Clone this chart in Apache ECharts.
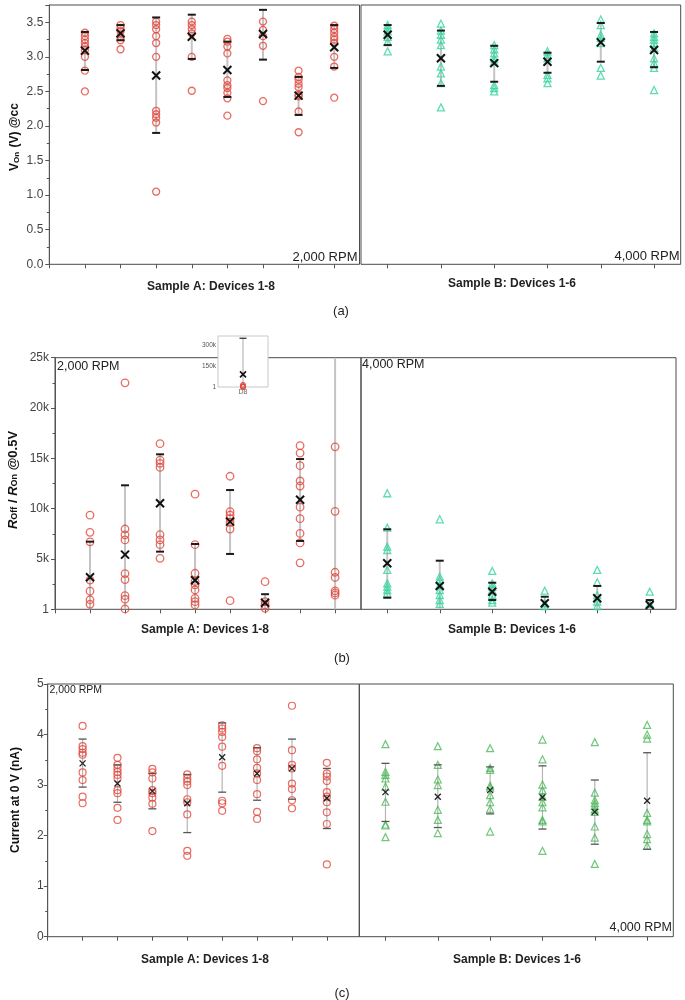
<!DOCTYPE html>
<html><head><meta charset="utf-8">
<script src="https://cdn.jsdelivr.net/npm/echarts/dist/echarts.min.js"></script>
<style>html,body{margin:0;padding:0;background:#fff}#c{width:685px;height:1000px}</style>
</head><body><div id="c"></div>
<script>
// ---------- DATA ----------
const devicesA = [1, 2, 3, 4, 5, 6, 7, 8];
const devicesB = [1, 2, 3, 4, 5, 6];

// (a) V_On (V) @cc
const vonA = [
  [3.35, 3.30, 3.25, 3.20, 3.15, 3.10, 3.00, 2.80, 2.50],
  [3.46, 3.42, 3.37, 3.29, 3.24, 3.11],
  [3.51, 3.46, 3.40, 3.30, 3.20, 3.00, 2.22, 2.17, 2.12, 2.05, 1.05],
  [3.51, 3.46, 3.40, 3.34, 3.00, 2.51],
  [3.26, 3.22, 3.15, 3.05, 2.66, 2.59, 2.55, 2.48, 2.40, 2.15],
  [3.51, 3.39, 3.30, 3.16, 2.36],
  [2.80, 2.71, 2.67, 2.61, 2.56, 2.45, 2.43, 2.21, 1.91],
  [3.45, 3.40, 3.35, 3.29, 3.25, 3.20, 3.00, 2.86, 2.41]
];
const vonAMean = [3.09, 3.34, 2.73, 3.29, 2.81, 3.33, 2.44, 3.14];
const vonAHi   = [3.36, 3.46, 3.57, 3.61, 3.22, 3.68, 2.71, 3.46];
const vonALo   = [2.81, 3.24, 1.90, 2.97, 2.42, 2.96, 2.16, 2.84];
const vonB = [
  [3.46, 3.42, 3.37, 3.29, 3.22, 3.08],
  [3.48, 3.38, 3.32, 3.25, 3.17, 2.86, 2.76, 2.62, 2.27],
  [3.17, 3.11, 3.05, 2.98, 2.93, 2.59, 2.55, 2.50],
  [3.08, 3.03, 2.98, 2.74, 2.69, 2.62],
  [3.54, 3.46, 3.32, 3.27, 3.20, 2.84, 2.73],
  [3.34, 3.29, 3.25, 3.20, 3.13, 2.98, 2.91, 2.84, 2.52]
];
const vonBMean = [3.32, 2.98, 2.91, 2.93, 3.21, 3.10];
const vonBHi   = [3.46, 3.38, 3.16, 3.06, 3.49, 3.36];
const vonBLo   = [3.17, 2.58, 2.64, 2.77, 2.93, 2.85];

// (b) R_Off / R_On @0.5V
const ratioA = [
  [9350, 7650, 6700, 2900, 1800, 950, 500],
  [22500, 7980, 7400, 6890, 3550, 2950, 1350, 1000, 30],
  [16460, 14830, 14500, 14100, 7420, 6890, 6420, 5070],
  [11440, 6420, 3580, 2750, 2420, 1920, 1090, 760, 430],
  [13220, 9700, 9370, 9000, 8640, 7970, 860],
  [2740, 760, 430, 100],
  [16260, 15520, 14270, 12750, 12250, 10150, 9000, 7540, 6600, 4620],
  [16140, 9740, 3680, 3160, 1840, 1620, 1400]
];
const ratioAMean = [3180, 5430, 10530, 2880, 8710, 650, 10890, 90000];
const ratioAHi   = [6720, 12320, 15400, 6490, 11850, 1500, 14930, 348000];
const ratioALo   = [-360, -1460, 5730, -730, 5500, -200, 6790, -168000];
const ratioB = [
  [11530, 8110, 6220, 5890, 3910, 2580, 2250, 1920, 1590],
  [8940, 3240, 2910, 2420, 1920, 1420, 920, 530],
  [3810, 2580, 2250, 1920, 1420, 920, 660],
  [1850, 600, 330],
  [3910, 2680, 1420, 760, 330],
  [1750, 530]
];
const ratioBMean = [4570, 2320, 1750, 600, 1090, 430];
const ratioBHi   = [7950, 4830, 2640, 1250, 2320, 920];
const ratioBLo   = [1150, -190, 920, -50, -140, -60];
const insetCategory = ['D8'];

// (c) Current at 0 V (nA)
const curA = [
  [4.17, 3.77, 3.71, 3.64, 3.60, 3.25, 3.10, 2.77, 2.64],
  [3.54, 3.40, 3.33, 3.26, 3.20, 3.13, 2.90, 2.84, 2.55, 2.31],
  [3.32, 3.25, 3.13, 2.90, 2.84, 2.75, 2.63, 2.09],
  [3.21, 3.13, 3.07, 3.00, 2.72, 2.66, 2.42, 1.70, 1.60],
  [4.18, 4.12, 4.05, 3.95, 3.76, 3.38, 2.69, 2.64, 2.49],
  [3.73, 3.67, 3.51, 3.34, 3.23, 3.10, 2.82, 2.47, 2.33],
  [4.57, 3.69, 3.40, 3.33, 3.03, 2.92, 2.70, 2.54],
  [3.44, 3.23, 3.17, 3.08, 2.86, 2.77, 2.66, 2.46, 2.23, 1.43]
];
const curAMean = [3.43, 3.03, 2.88, 2.64, 3.55, 3.23, 3.33, 2.74];
const curAHi   = [3.91, 3.40, 3.23, 3.21, 4.23, 3.74, 3.91, 3.33];
const curALo   = [2.96, 2.66, 2.53, 2.06, 2.86, 2.70, 2.72, 2.14];
const curB = [
  [3.81, 3.26, 3.20, 3.13, 2.97, 2.67, 2.22, 2.20, 1.97],
  [3.77, 3.40, 3.11, 3.00, 2.51, 2.31, 2.05],
  [3.73, 3.34, 3.30, 2.99, 2.95, 2.80, 2.66, 2.53, 2.08],
  [3.90, 3.51, 3.01, 2.90, 2.77, 2.66, 2.56, 2.31, 2.28, 1.70],
  [3.85, 2.85, 2.70, 2.64, 2.59, 2.52, 2.47, 2.18, 1.96, 1.44],
  [4.19, 4.00, 3.92, 2.45, 2.31, 2.28, 2.03, 1.93, 1.80]
];
const curBMean = [2.86, 2.77, 2.90, 2.76, 2.47, 2.69];
const curBHi   = [3.43, 3.40, 3.36, 3.38, 3.10, 3.64];
const curBLo   = [2.28, 2.16, 2.43, 2.13, 1.83, 1.73];

// ---------- HELPERS ----------
const FONT = '"Liberation Sans", Arial, sans-serif';
const RED = '#e3473c', TEAL = '#36d49c', GREEN = '#4db95b';

function toPts(devs, groups) {
  const out = [];
  groups.forEach((g, i) => g.forEach(v => out.push([devs[i], v])));
  return out;
}
function toErr(devs, mean, hi, lo) {
  return mean.map((m, i) => [devs[i], m, hi[i], lo[i]]);
}
function clampY(y, cs) { return Math.max(cs.y, Math.min(cs.y + cs.height, y)); }
function lineRender(color, w) {
  return function (params, api) {
    const cs = params.coordSys;
    const xv = api.value(0);
    const x = api.coord([xv, api.value(1)])[0];
    const y1 = clampY(api.coord([xv, api.value(2)])[1], cs);
    const y2 = clampY(api.coord([xv, api.value(3)])[1], cs);
    return { type: 'line', shape: { x1: x, y1: y1, x2: x, y2: y2 }, style: { stroke: color, lineWidth: w } };
  };
}
function capRender(capColor, capW, capHalf, xColor, xW, xHalf) {
  return function (params, api) {
    const cs = params.coordSys;
    const xv = api.value(0);
    const p = api.coord([xv, api.value(1)]);
    const yH = api.coord([xv, api.value(2)])[1];
    const yL = api.coord([xv, api.value(3)])[1];
    const inside = y => y >= cs.y - 0.5 && y <= cs.y + cs.height + 0.5;
    const ch = [];
    [yH, yL].forEach(y => {
      if (inside(y)) ch.push({ type: 'line', shape: { x1: p[0] - capHalf, y1: y, x2: p[0] + capHalf, y2: y }, style: { stroke: capColor, lineWidth: capW } });
    });
    if (inside(p[1])) {
      ch.push({ type: 'line', shape: { x1: p[0] - xHalf, y1: p[1] - xHalf, x2: p[0] + xHalf, y2: p[1] + xHalf }, style: { stroke: xColor, lineWidth: xW } });
      ch.push({ type: 'line', shape: { x1: p[0] - xHalf, y1: p[1] + xHalf, x2: p[0] + xHalf, y2: p[1] - xHalf }, style: { stroke: xColor, lineWidth: xW } });
    }
    return { type: 'group', children: ch };
  };
}
function groupSeries(idx, pts, err, sym, color, size, st, zBase) {
  zBase = zBase || 2;
  return [
    { type: 'custom', xAxisIndex: idx, yAxisIndex: idx, data: err, silent: true, z: zBase,
      renderItem: lineRender(st.lineColor, st.lineW) },
    { type: 'scatter', xAxisIndex: idx, yAxisIndex: idx, data: pts, silent: true, z: zBase + 1,
      symbol: sym, symbolSize: size,
      itemStyle: { color: 'rgba(255,255,255,0)', borderColor: color, borderWidth: st.symW } },
    { type: 'custom', xAxisIndex: idx, yAxisIndex: idx, data: err, silent: true, z: zBase + 2,
      renderItem: capRender(st.capColor, st.capW, st.capHalf, st.xColor, st.xW, st.xHalf) }
  ];
}
const stAB = { lineColor: '#c4c4c4', lineW: 2, symW: 1.3, capColor: '#1a1a1a', capW: 2, capHalf: 4, xColor: '#111', xW: 2, xHalf: 4 };
const stC  = { lineColor: '#b5b5b5', lineW: 1.2, symW: 1.2, capColor: '#555', capW: 1.3, capHalf: 4, xColor: '#222', xW: 1.3, xHalf: 3 };

function xAxisDef(idx, min, max, ticks) {
  return { type: 'value', gridIndex: idx, min: min, max: max,
    axisLine: { show: false }, splitLine: { show: false }, axisLabel: { show: false },
    axisTick: { show: true, inside: false, length: 4, customValues: ticks, lineStyle: { color: '#555' } } };
}
function yAxisDef(idx, min, max, interval, fmt, margin, show, showMax) {
  if (!show) {
    return { type: 'value', gridIndex: idx, min: min, max: max, interval: interval,
      axisLine: { show: false }, axisTick: { show: false }, axisLabel: { show: false }, splitLine: { show: false } };
  }
  return { type: 'value', gridIndex: idx, min: min, max: max, interval: interval,
    axisLine: { show: true, lineStyle: { color: '#555' } },
    axisTick: { show: true, length: 4, lineStyle: { color: '#555' } },
    minorTick: { show: true, splitNumber: 2, length: 2.5, lineStyle: { color: '#555' } },
    splitLine: { show: false },
    axisLabel: { show: true, formatter: fmt, margin: margin, showMaxLabel: showMax, color: '#444', fontSize: 12, fontFamily: FONT } };
}
const gridBorder = { show: true, borderColor: '#4a4a4a', borderWidth: 1, backgroundColor: 'rgba(0,0,0,0)' };
const ticksA = [0].concat(devicesA);

function txt(x, y, text, font, align, vAlign, extra) {
  return Object.assign({ type: 'text', x: x, y: y, silent: true,
    style: { text: text, font: font, fill: '#222', align: align || 'center', verticalAlign: vAlign || 'middle' } }, extra || {});
}
function rtxt(x, y, text, rich) {
  return { type: 'text', x: x, y: y, rotation: Math.PI / 2, silent: true,
    style: { text: text, rich: rich, fill: '#111', align: 'center', verticalAlign: 'middle' } };
}

// ---------- OPTION ----------
const option = {
  animation: false,
  backgroundColor: '#fff',
  grid: [
    Object.assign({ left: 49.3, top: 5, width: 310.2, height: 259.3 }, gridBorder),
    Object.assign({ left: 361, top: 5, width: 319.7, height: 259.3 }, gridBorder),
    Object.assign({ left: 55, top: 357.7, width: 306, height: 251.6 }, gridBorder),
    Object.assign({ left: 361, top: 357.7, width: 315, height: 251.6 }, gridBorder),
    Object.assign({ left: 47.7, top: 684, width: 311.6, height: 252.7 }, gridBorder),
    Object.assign({ left: 359.3, top: 684, width: 314, height: 252.7 }, gridBorder),
    { left: 218, top: 336, width: 50, height: 51, show: true, borderColor: '#c8c8c8', borderWidth: 1, backgroundColor: '#fff', z: 10 }
  ],
  xAxis: [
    xAxisDef(0, 0, 8.71, ticksA),
    xAxisDef(1, 0.5, 6.5, devicesB),
    xAxisDef(2, 0, 8.74, ticksA),
    xAxisDef(3, 0.5, 6.5, devicesB),
    xAxisDef(4, 0, 8.93, ticksA),
    xAxisDef(5, 0.5, 6.5, devicesB),
    { type: 'category', gridIndex: 6, data: insetCategory, z: 11,
      axisLine: { show: false }, axisTick: { show: false }, splitLine: { show: false },
      axisLabel: { show: true, fontSize: 7, color: '#666', margin: 2, fontFamily: FONT } }
  ],
  yAxis: [
    yAxisDef(0, 0, 3.75, 0.5, v => (Math.abs(v * 2 - Math.round(v * 2)) > 1e-6 ? '' : v.toFixed(1)), 6, true, false),
    yAxisDef(1, 0, 3.75, 0.5, null, 0, false),
    yAxisDef(2, 0, 25000, 5000, v => v === 0 ? '1' : (v / 1000) + 'k', 6, true, true),
    yAxisDef(3, 0, 25000, 5000, null, 0, false),
    yAxisDef(4, 0, 5, 1, v => String(v), 4, true, true),
    yAxisDef(5, 0, 5, 1, null, 0, false),
    { type: 'value', gridIndex: 6, min: 0, max: 364000, interval: 150000, z: 11,
      axisLine: { show: false }, axisTick: { show: false }, splitLine: { show: false },
      axisLabel: { show: true, fontSize: 6.5, color: '#555', margin: 2, showMaxLabel: false, fontFamily: FONT,
        formatter: v => v === 0 ? '1' : (v % 150000 === 0 ? (v / 1000) + 'k' : '') } }
  ],
  series: [].concat(
    groupSeries(0, toPts(devicesA, vonA), toErr(devicesA, vonAMean, vonAHi, vonALo), 'circle', RED, 7, stAB),
    groupSeries(1, toPts(devicesB, vonB), toErr(devicesB, vonBMean, vonBHi, vonBLo), 'triangle', TEAL, 7, stAB),
    groupSeries(2, toPts(devicesA, ratioA), toErr(devicesA, ratioAMean, ratioAHi, ratioALo), 'circle', RED, 7.5, stAB),
    groupSeries(3, toPts(devicesB, ratioB), toErr(devicesB, ratioBMean, ratioBHi, ratioBLo), 'triangle', TEAL, 7, stAB),
    groupSeries(4, toPts(devicesA, curA), toErr(devicesA, curAMean, curAHi, curALo), 'circle', RED, 7, stC),
    groupSeries(5, toPts(devicesB, curB), toErr(devicesB, curBMean, curBHi, curBLo), 'triangle', GREEN, 7, stC),
    groupSeries(6, ratioA[7].map(v => [0, v]), [[0, ratioAMean[7], ratioAHi[7], ratioALo[7]]], 'circle', RED, 5,
      { lineColor: '#aaa', lineW: 1, symW: 1, capColor: '#222', capW: 1.2, capHalf: 3.5, xColor: '#111', xW: 1.6, xHalf: 3 }, 12)
  ),
  graphic: [
    // y-axis names
    rtxt(15, 137, '{b|V}{s|On}{b| (V) @cc}', {
      b: { font: 'bold 12px ' + FONT, fill: '#111' },
      s: { font: 'bold 8px ' + FONT, fill: '#111', verticalAlign: 'bottom', padding: [0, 1, 0, 0] } }),
    rtxt(13, 480, '{i|R}{s|Off}{b| / }{i|R}{s|On}{b| @0.5V}', {
      i: { font: 'italic bold 13px ' + FONT, fill: '#111' },
      b: { font: 'bold 13px ' + FONT, fill: '#111' },
      s: { font: 'bold 9px ' + FONT, fill: '#111', verticalAlign: 'bottom' } }),
    rtxt(16, 800, '{b|Current at 0 V (nA)}', { b: { font: 'bold 12px ' + FONT, fill: '#111' } }),
    // x-axis names
    txt(211, 287, 'Sample A: Devices 1-8', 'bold 12px ' + FONT),
    txt(512, 284, 'Sample B: Devices 1-6', 'bold 12px ' + FONT),
    txt(205, 630, 'Sample A: Devices 1-8', 'bold 12px ' + FONT),
    txt(512, 630, 'Sample B: Devices 1-6', 'bold 12px ' + FONT),
    txt(205, 960, 'Sample A: Devices 1-8', 'bold 12px ' + FONT),
    txt(517, 960, 'Sample B: Devices 1-6', 'bold 12px ' + FONT),
    // panel letters
    txt(341, 311, '(a)', '13px ' + FONT),
    txt(342, 658, '(b)', '13px ' + FONT),
    txt(342, 993, '(c)', '13px ' + FONT),
    // RPM labels
    txt(357.5, 257, '2,000 RPM', '13px ' + FONT, 'right'),
    txt(679.5, 256, '4,000 RPM', '13px ' + FONT, 'right'),
    txt(57, 367, '2,000 RPM', '12.5px ' + FONT, 'left'),
    txt(362, 365, '4,000 RPM', '12.5px ' + FONT, 'left'),
    txt(49.5, 690, '2,000 RPM', '10.5px ' + FONT, 'left'),
    txt(672, 928, '4,000 RPM', '12.5px ' + FONT, 'right')
  ]
};

const chart = echarts.init(document.getElementById('c'), null, { renderer: 'canvas' });
chart.setOption(option);
</script></body></html>
